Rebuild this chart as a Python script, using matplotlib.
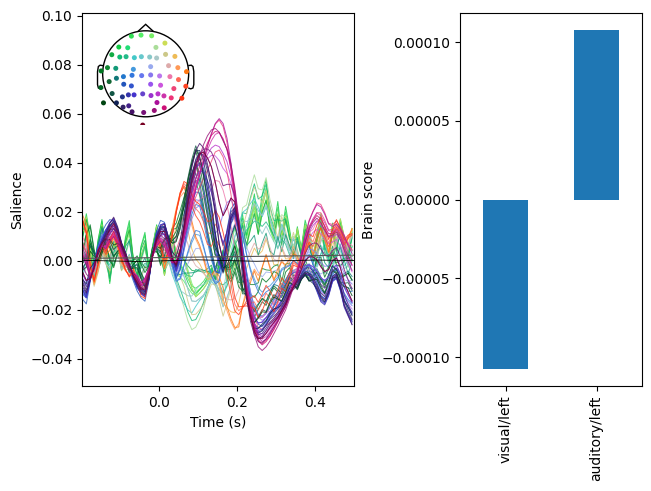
import numpy as np
import matplotlib
matplotlib.use("Agg")
import matplotlib.pyplot as plt
from matplotlib.patches import Circle, Polygon

# time axis of the evoked salience (s), one sample every 10 ms
times = np.arange(70) * 0.01 - 0.195

# hand-read waveform shapes (units of 0.01), one per scalp region
T_OCC_EARLY = [
    -0.8, -1.1, -0.6, -0.2, 0.3, 0.6, 0.9, 1.2, 1.4, 1.1,
    0.6, 0.3, -0.1, -0.5, -0.8, -1.0, -1.1, -0.6, 0.2, 0.8,
    1.1, 1.2, 0.8, 0.1, -0.2, 0.3, 1.2, 2.2, 3.0, 3.5,
    3.7, 3.5, 2.9, 2.2, 1.2, 0.1, -0.5, 0.2, 1.2, 1.6,
    1.0, -0.3, -1.2, -1.9, -2.3, -2.4, -2.3, -2.1, -1.9, -1.8,
    -1.7, -1.5, -1.3, -1.0, -0.9, -0.8, -0.6, -0.5, -0.6, -0.8,
    -1.1, -1.4, -1.5, -1.2, -0.7, -0.6, -1.0, -1.6, -1.9, -2.2]
T_OCC_LATE = [
    0.5, 0.2, -0.6, -0.3, 0.4, 0.6, 0.5, 0.8, 1.0, 0.7,
    0.3, 0.0, -0.3, -0.5, -0.6, -0.9, -0.7, -0.3, 0.2, 0.6,
    0.8, 0.6, 0.2, -0.1, 0.0, 0.4, 0.9, 1.5, 2.2, 2.9,
    3.5, 4.1, 4.7, 5.2, 5.6, 5.8, 5.6, 5.0, 4.0, 2.8,
    1.6, 0.3, -1.0, -1.8, -2.6, -3.1, -3.3, -3.2, -3.0, -2.7,
    -2.4, -2.1, -1.8, -1.4, -0.9, -0.4, 0.3, 1.0, 1.6, 2.0,
    2.3, 2.2, 1.9, 1.5, 1.4, 1.5, 1.3, 1.0, 0.6, 0.3]
T_FRONT = [
    0.9, 1.6, 0.6, -0.4, 0.8, 1.5, 0.2, -0.9, 0.4, 1.0,
    -0.3, 0.9, 1.6, 0.1, -0.8, 0.6, 1.2, -0.2, 0.5, 1.3,
    0.4, -0.6, 0.3, 0.8, -0.4, -0.6, -1.0, -1.5, -1.9, -2.1,
    -1.8, -1.4, -0.9, -0.4, -0.7, -0.2, 0.4, -0.3, 0.2, 0.9,
    0.5, 1.9, 1.2, 2.1, 2.9, 1.8, 2.7, 3.3, 1.9, 1.4,
    2.4, 1.2, 2.2, 1.3, 0.4, 1.5, 0.6, 1.6, 1.1, 0.0,
    1.0, 1.8, 0.7, 0.2, 1.4, 0.5, 1.6, 0.9, 0.1, 1.1]
T_TEMP = [
    1.7, 1.2, 0.0, -0.8, -0.3, 0.4, 0.2, 0.6, 0.9, 0.5,
    0.0, -0.4, -0.6, -0.3, -0.7, -1.2, -1.4, -0.6, 0.3, 0.8,
    0.4, -0.2, 0.3, 1.2, 2.2, 2.9, 3.2, 2.8, 2.0, 1.4,
    1.0, 0.4, -0.3, -0.5, -0.2, -0.6, -1.2, -1.8, -2.4, -2.9,
    -2.8, -2.2, -1.6, -1.3, -1.0, -1.2, -0.8, -0.4, -0.7, -1.1,
    -0.8, -0.3, -0.6, -0.2, 0.2, -0.1, -0.4, 0.1, 0.5, 0.2,
    0.6, 1.0, 0.7, 0.3, 0.8, 1.2, 0.9, 0.5, 0.9, 1.1]
T_CENT = [
    -1.2, -1.3, -0.6, 0.0, 0.5, 0.9, 1.1, 1.2, 1.1, 0.8,
    0.4, 0.1, -0.3, -0.6, -0.9, -1.1, -1.2, -0.6, 0.3, 0.9,
    1.2, 1.1, 0.6, -0.1, -0.6, -0.4, 0.2, 0.8, 1.3, 1.6,
    1.5, 0.9, 0.2, -0.4, -0.7, -0.5, 0.3, 1.1, 1.6, 1.7,
    1.3, 0.6, -0.2, -0.9, -1.4, -1.7, -1.8, -1.7, -1.5, -1.2,
    -0.9, -0.7, -0.5, -0.3, -0.2, -0.2, -0.3, -0.2, 0.0, -0.2,
    -0.5, -0.9, -1.0, -0.8, -0.5, -0.4, -0.7, -1.0, -1.2, -1.3]
T_FRONTCENT = [
    -0.2, 0.4, -0.3, -0.8, -0.4, 0.2, -0.2, -0.6, 0.0, 0.3,
    -0.4, -0.1, 0.4, -0.2, -0.7, -0.3, 0.2, -0.3, 0.3, 0.6,
    0.2, -0.3, -0.2, -0.6, -0.9, -1.5, -2.0, -2.5, -2.8, -2.6,
    -2.3, -1.9, -1.3, -0.8, -0.9, -1.4, -1.9, -1.2, -0.4, 0.5,
    1.2, 2.0, 2.4, 2.9, 3.3, 3.0, 2.6, 3.0, 2.4, 1.8,
    1.2, 1.9, 1.4, 0.6, 1.1, 0.5, 0.0, 0.8, 1.3, 0.4,
    -0.1, 0.6, 1.2, 0.3, -0.2, 0.5, 1.0, 0.1, 0.4, 0.9]
T_LEFT = [
    0.2, 0.8, 1.5, 0.6, -0.3, 0.2, 0.7, 0.3, -0.4, 0.1,
    0.5, -0.2, -0.6, 0.0, 0.4, -0.3, -0.8, -0.2, 0.5, 0.2,
    -0.3, 0.4, 0.9, 1.3, 1.8, 2.4, 3.1, 3.8, 4.4, 4.9,
    4.0, 2.8, 1.6, 0.6, -0.2, 0.3, 0.0, -0.6, -1.0, -0.7,
    -1.3, -1.8, -1.4, -2.0, -2.3, -1.8, -1.4, -1.7, -1.2, -0.8,
    -1.1, -1.5, -1.0, -0.6, -0.9, -1.3, -0.8, -0.5, -0.9, -0.6,
    -0.2, -0.5, -0.9, -0.4, 0.0, -0.3, -0.6, -0.2, 0.1, -0.2]

templates = {"oe": T_OCC_EARLY, "ol": T_OCC_LATE, "fr": T_FRONT, "tp": T_TEMP,
             "ce": T_CENT, "fc": T_FRONTCENT, "lt": T_LEFT}

# sensor layout (head radius = 1) and spatial colours
sensor_x = [-0.332, -0.108, 0.139, -0.625, -0.417, 0.239, 0.448, -0.788, -0.602, -0.456,
            -0.263, -0.100, 0.093, 0.255, 0.463, 0.680, -0.888, -0.695, -0.286, 0.116,
            0.533, 0.749, -1.035, 0.950, -0.849, -0.680, -0.517, -0.317, -0.093, 0.116,
            0.324, 0.564, 0.764, -1.042, -0.510, -0.332, 0.116, 0.347, 0.656, 0.934,
            -0.780, -0.541, -0.402, -0.270, -0.069, 0.124, 0.286, 0.425, 0.595, 0.842,
            -0.981, -0.680, -0.525, -0.394, 0.263, 0.432, -0.317, -0.046, 0.201, -0.069]
sensor_y = [0.876, 0.900, 0.884, 0.622, 0.606, 0.614, 0.714, 0.444, 0.390, 0.398,
            0.375, 0.398, 0.390, 0.367, 0.452, 0.405, 0.143, 0.127, 0.104, 0.166,
            0.189, 0.143, 0.066, 0.050, -0.181, -0.104, -0.066, -0.035, -0.042, -0.027,
            -0.050, -0.066, -0.135, -0.320, -0.243, -0.282, -0.243, -0.266, -0.344, -0.290,
            -0.459, -0.537, -0.490, -0.490, -0.467, -0.506, -0.467, -0.514, -0.560, -0.568,
            -0.676, -0.676, -0.776, -0.745, -0.668, -0.792, -0.884, -0.900, -0.853, -1.193]
sensor_colors = ['#33dd55', '#55ee66', '#77ee66', '#11cc44', '#22dd77', '#aadd99', '#ccdd55',
                 '#11aa44', '#11bb77', '#22bb88', '#44c8c8', '#66c8cc', '#88c8c8', '#aac8c8',
                 '#ccc888', '#eebb55', '#118833', '#119977', '#4499dd', '#99aaee', '#ddaaaa',
                 '#ff9955', '#007722', '#ff7711', '#116633', '#117777', '#2277cc', '#3377dd',
                 '#6677ee', '#8877ee', '#bb77ee', '#ee77aa', '#ff6655', '#006622', '#2255bb',
                 '#3355cc', '#9955ee', '#cc55dd', '#ee4477', '#ff4422', '#115544', '#223388',
                 '#3333aa', '#4433cc', '#6644cc', '#9933cc', '#bb33cc', '#cc33aa', '#ee3377',
                 '#ff3311', '#004411', '#112255', '#332266', '#442288', '#aa1199', '#cc1177',
                 '#441166', '#771177', '#991177', '#770022']
# per-channel blend of two region shapes
mix_a = ["fr", "fr", "fr", "fr", "fr", "fc", "fr", "fr", "fc", "fc",
         "fc", "fc", "fc", "fc", "fc", "tp", "lt", "fr", "ce", "ce",
         "tp", "tp", "lt", "tp", "lt", "lt", "ce", "ce", "ce", "ce",
         "oe", "ol", "tp", "lt", "ce", "oe", "oe", "ol", "ol", "tp",
         "lt", "oe", "oe", "oe", "oe", "oe", "ol", "ol", "ol", "tp",
         "lt", "oe", "oe", "oe", "ol", "ol", "oe", "ol", "ol", "oe"]
gain_a = [1.0, 0.9, 0.8, 1.1, 0.9, 0.8, 0.9, 0.9, 0.6, 0.7,
          0.9, 0.8, 0.7, 0.8, 1.0, 0.8, 0.8, 0.6, 1.0, 0.8,
          0.6, 1.0, 0.9, 1.0, 0.7, 0.6, 1.0, 1.1, 0.9, 0.8,
          0.6, 0.6, 0.9, 0.6, 1.1, 0.7, 0.8, 0.7, 0.8, 0.9,
          0.6, 1.0, 1.0, 0.9, 0.8, 0.8, 0.8, 0.9, 1.0, 0.9,
          0.5, 1.0, 1.1, 1.0, 1.0, 0.9, 1.2, 0.6, 0.9, 0.8]
mix_b = ["lt", "ce", "tp", "lt", "tp", "fr", "tp", "lt", "fr", "lt",
         "ce", "tp", "ce", "tp", "tp", "fc", "fr", "ce", "fc", "fc",
         "fc", "fc", "fr", "fr", "oe", "ce", "oe", "fc", "oe", "ol",
         "ce", "tp", "ol", "oe", "oe", "ce", "ol", "oe", "tp", "ol",
         "oe", "ce", "ce", "ce", "ol", "ol", "oe", "oe", "tp", "ol",
         "oe", "lt", "ol", "ol", "oe", "oe", "ol", "oe", "oe", "ol"]
gain_b = [0.2, 0.3, 0.3, 0.2, 0.3, 0.3, 0.3, 0.3, 0.4, 0.3,
          0.3, 0.3, 0.4, 0.3, 0.3, 0.4, 0.3, 0.5, 0.2, 0.3,
          0.4, 0.2, 0.2, 0.2, 0.3, 0.4, 0.2, 0.2, 0.3, 0.3,
          0.5, 0.4, 0.3, 0.3, 0.3, 0.5, 0.2, 0.3, 0.2, 0.2,
          0.5, 0.2, 0.3, 0.4, 0.2, 0.4, 0.2, 0.1, 0.1, 0.4,
          0.6, 0.2, 0.1, 0.2, 0.0, 0.2, 0.1, 0.6, 0.3, 0.4]

# two near-flat traces
flat_times = [-0.195, -0.05, 0.1, 0.25, 0.4, 0.5]
flat_gray = [0.10, 0.12, 0.15, 0.18, 0.21, 0.23]
flat_black = [0.02, -0.03, 0.04, -0.02, 0.03, 0.01]

conditions = ["visual/left", "auditory/left"]
brain_scores = [-1.076e-4, 1.078e-4]

fig = plt.figure(figsize=(6.51, 4.91), dpi=100)
ax = fig.add_axes([0.126, 0.2138, 0.4178, 0.7597])
ax2 = fig.add_axes([0.7066, 0.2138, 0.2796, 0.7597])

for i in range(len(sensor_x)):
    trace = (gain_a[i] * np.array(templates[mix_a[i]]) +
             gain_b[i] * np.array(templates[mix_b[i]])) * 0.01
    ax.plot(times, trace, color=sensor_colors[i], lw=0.7, alpha=0.8)
ax.plot(flat_times, np.array(flat_gray) * 0.01, color='#555555', lw=0.8)
ax.plot(flat_times, np.array(flat_black) * 0.01, color='black', lw=0.6)

ax.set_xlim(-0.196, 0.5)
ax.set_ylim(-0.0511, 0.1011)
ax.set_xticks([0.0, 0.2, 0.4])
ax.set_yticks([-0.04, -0.02, 0.0, 0.02, 0.04, 0.06, 0.08, 0.10])
ax.set_xlabel("Time (s)")
ax.set_ylabel("Salience")

# sensor inset
ins = fig.add_axes([0.1445, 0.7446, 0.1585, 0.2102])
ins.set_xlim(-1.2, 1.2)
ins.set_ylim(-1.2, 1.2)
ins.set_aspect('equal')
ins.axis('off')
ins.add_patch(Circle((0, 0), 1.0, fill=False, color='black', lw=1.0))
ins.add_patch(Polygon([(-0.18, 0.985), (0, 1.15), (0.18, 0.985)], closed=False,
                      fill=False, color='black', lw=1.0))
ear = [(-0.99, 0.19), (-1.06, 0.20), (-1.10, 0.17), (-1.12, 0.05), (-1.12, -0.25),
       (-1.10, -0.33), (-1.05, -0.35), (-0.99, -0.33)]
ins.add_patch(Polygon(ear, closed=False, fill=False, color='black', lw=1.0))
ins.add_patch(Polygon([(-x, y) for x, y in ear], closed=False, fill=False,
                      color='black', lw=1.0))
ins.scatter(sensor_x, sensor_y, c=sensor_colors, s=13, linewidths=0, zorder=3)

ax2.bar(range(len(conditions)), brain_scores, width=0.5, color='#1f77b4')
ax2.set_xlim(-0.5, 1.5)
ax2.set_xticks(range(len(conditions)))
ax2.set_xticklabels(conditions, rotation=90)
ax2.set_ylabel("Brain score")

fig.savefig("out.png", dpi=100)
